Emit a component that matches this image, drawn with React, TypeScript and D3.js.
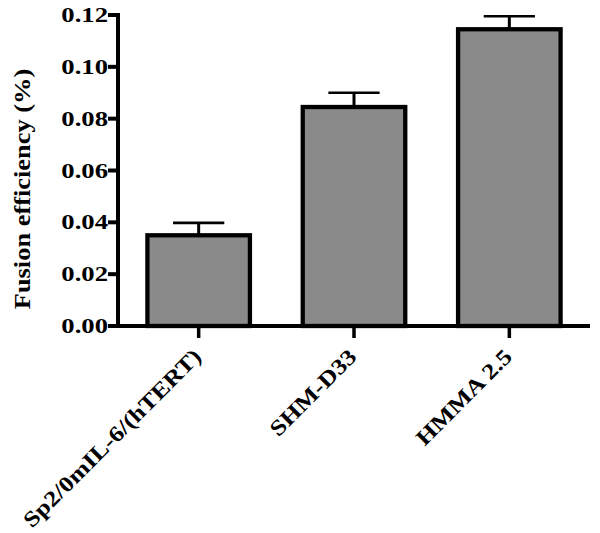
import React from "react";
import * as d3 from "d3";

const categories = ["Sp2/0mIL-6/(hTERT)", "SHM-D33", "HMMA 2.5"];
const means = [0.035, 0.0845, 0.1145];
const errors = [0.0048, 0.0055, 0.005];
const yTicks = [0, 0.02, 0.04, 0.06, 0.08, 0.1, 0.12];
const yLabel = "Fusion efficiency (%)";

const W = 600;
const H = 533;
const FONT = "'Liberation Serif', 'Times New Roman', serif";

export default function App() {
  const y = d3.scaleLinear().domain([0, 0.12]).range([326, 15]);
  const x = d3
    .scaleBand<string>()
    .domain(categories)
    .range([121, 587])
    .paddingInner(0.34)
    .paddingOuter(0.17);
  const bw = x.bandwidth();
  const x0 = 118;
  const xEnd = 590;
  const y0 = y(0);

  return (
    <svg
      width={W}
      height={H}
      style={{ position: "absolute", left: 0, top: 0, background: "#fff" }}
    >
      <rect x={0} y={0} width={W} height={H} fill="#fff" />
      {/* bars */}
      {categories.map((c, i) => {
        const cx = (x(c) as number) + bw / 2;
        const top = y(means[i]);
        const capY = y(means[i] + errors[i]);
        return (
          <g key={c}>
            <line x1={cx} x2={cx} y1={top} y2={capY} stroke="#000" strokeWidth={3} />
            <line
              x1={cx - bw / 4}
              x2={cx + bw / 4}
              y1={capY}
              y2={capY}
              stroke="#000"
              strokeWidth={2.6}
            />
            <rect
              x={x(c) as number}
              y={top}
              width={bw}
              height={y0 - top}
              fill="#8a8a8a"
              stroke="#000"
              strokeWidth={4.3}
            />
          </g>
        );
      })}
      {/* y axis */}
      <line x1={x0} x2={x0} y1={y(0.12) - 2} y2={y0 + 2} stroke="#000" strokeWidth={4} />
      {yTicks.map((t) => (
        <g key={t}>
          <line x1={x0 - 10} x2={x0} y1={y(t)} y2={y(t)} stroke="#000" strokeWidth={4} />
          <g transform={`translate(${x0 - 10},${y(t) + 7}) scale(1.27,1)`}>
            <text
              textAnchor="end"
              fontFamily={FONT}
              fontWeight="bold"
              fontSize={21}
              fill="#000"
            >
              {d3.format(".2f")(t)}
            </text>
          </g>
        </g>
      ))}
      {/* x axis */}
      <line x1={x0 - 2} x2={xEnd} y1={y0} y2={y0} stroke="#000" strokeWidth={4} />
      {categories.map((c) => {
        const cx = (x(c) as number) + bw / 2;
        return (
          <g key={c}>
            <line x1={cx} x2={cx} y1={y0} y2={y0 + 12} stroke="#000" strokeWidth={3.5} />
            <g transform={`translate(${cx + 4},${y0 + 32}) rotate(-45) scale(1.18,1)`}>
              <text
                textAnchor="end"
                fontFamily={FONT}
                fontWeight="bold"
                fontSize={22}
                fill="#000"
              >
                {c}
              </text>
            </g>
          </g>
        );
      })}
      {/* y label */}
      <g transform={`translate(30,189) rotate(-90) scale(1.1,1)`}>
        <text
          textAnchor="middle"
          fontFamily={FONT}
          fontWeight="bold"
          fontSize={24}
          fill="#000"
        >
          {yLabel}
        </text>
      </g>
    </svg>
  );
}
